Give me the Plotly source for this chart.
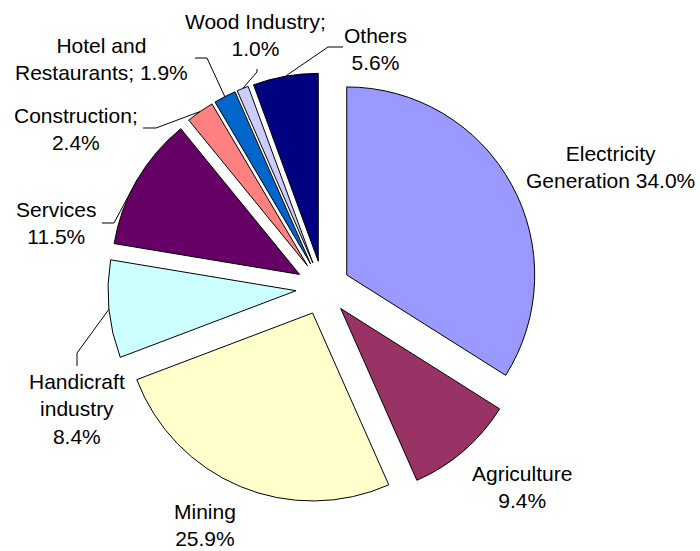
import math
import plotly.graph_objects as go

# ---------------- data ----------------
labels = ["Electricity Generation", "Agriculture", "Mining", "Handicraft industry",
          "Services", "Construction", "Hotel and Restaurants", "Wood Industry", "Others"]
values = [34.0, 9.4, 25.9, 8.4, 11.5, 2.4, 1.9, 1.0, 5.6]
label_fmt = ["Electricity<br>Generation {:.1f}%", "Agriculture<br>{:.1f}%", "Mining<br>{:.1f}%",
             "Handicraft<br>industry<br>{:.1f}%", "Services<br>{:.1f}%", "Construction;<br>{:.1f}%",
             "Hotel and<br>Restaurants; {:.1f}%", "Wood Industry;<br>{:.1f}%", "Others<br>{:.1f}%"]
colors = ["#9999FF", "#993366", "#FFFFCC", "#CCFFFF", "#660066",
          "#FF8080", "#0066CC", "#CCCCFF", "#000080"]

# ---------------- layout geometry (pixels) ----------------
W, H = 700, 551
CX, CY = 323, 288
R = 188
PULL = 0.144
half = R * (1 + PULL)

# label centres (px) and leader-line layout points (px)
label_pos = [(610, 167), (522, 487), (205, 525), (77, 409), (56, 223),
             (76, 129), (101, 59), (255, 35), (375, 49)]
leaders = {3: [(77, 366), (77, 353)], 4: [(102, 223), (114, 223)],
           5: [(143, 128), (156, 128)], 6: [(195, 58), (207, 58)],
           7: [(257, 69), (257, 72)], 8: [(343, 47), (328, 47)]}

def px(x, y):
    return x / W, 1 - y / H

fig = go.Figure(go.Pie(
    labels=labels, values=values, sort=False, direction="clockwise", rotation=0,
    pull=PULL, textinfo="none", hoverinfo="label+percent",
    marker=dict(colors=colors, line=dict(color="#000000", width=1)),
    domain=dict(x=[(CX - half) / W, (CX + half) / W],
                y=[1 - (CY + half) / H, 1 - (CY - half) / H]),
    showlegend=False,
))

total = sum(values)
annotations = []
shapes = []
cum = 0.0
for i, v in enumerate(values):
    mid = (cum + v / 2) / total * 2 * math.pi
    cum += v
    lx, ly = label_pos[i]
    ax, ay = px(lx, ly)
    annotations.append(dict(x=ax, y=ay, xref="paper", yref="paper", xanchor="center",
                            yanchor="middle", showarrow=False,
                            text=label_fmt[i].format(v),
                            font=dict(family="Arial, Liberation Sans, sans-serif", size=21, color="#000000")))
    if i in leaders:
        # slice outer arc midpoint (including pull)
        ex = CX + R * (1 + PULL) * math.sin(mid)
        ey = CY - R * (1 + PULL) * math.cos(mid)
        pts = leaders[i] + [(ex, ey)]
        path = "M " + " L ".join("{:.4f},{:.4f}".format(*px(x, y)) for x, y in pts)
        shapes.append(dict(type="path", xref="paper", yref="paper", path=path,
                           line=dict(color="#000000", width=1)))

fig.update_layout(width=W, height=H, margin=dict(l=0, r=0, t=0, b=0),
                  paper_bgcolor="white", plot_bgcolor="white",
                  annotations=annotations, shapes=shapes)
fig.write_html("out.html")
